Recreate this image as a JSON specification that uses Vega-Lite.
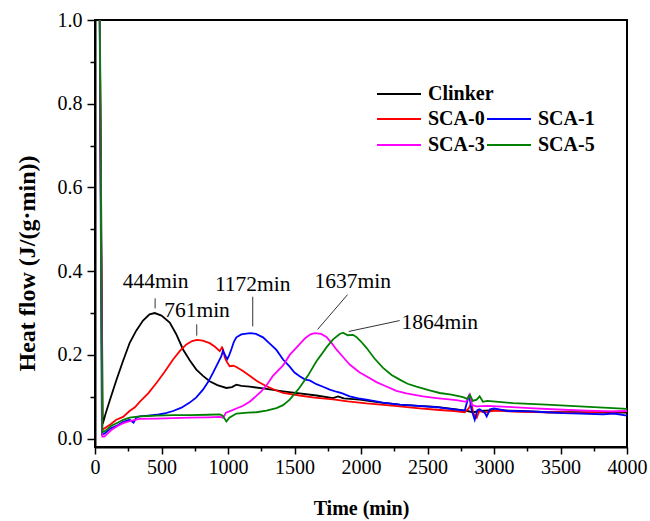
{
  "$schema": "https://vega.github.io/schema/vega-lite/v6.json",
  "autosize": {"type": "none"},
  "padding": {"left": 95, "top": 20, "right": 23, "bottom": 74},
  "width": 532,
  "height": 427,
  "background": "white",
  "config": {
    "view": {"stroke": "black", "strokeWidth": 2},
    "axis": {
      "grid": false,
      "domainColor": "black",
      "domainWidth": 2,
      "tickColor": "black",
      "tickWidth": 1.5,
      "labelFont": "Liberation Serif",
      "labelFontSize": 20,
      "labelColor": "black",
      "titleFont": "Liberation Serif",
      "titleFontSize": 20,
      "titleFontWeight": "bold",
      "titleColor": "black",
      "labelOverlap": false,
      "labelFlush": false
    },
    "legend": {
      "labelFont": "Liberation Serif",
      "labelFontSize": 20,
      "labelFontWeight": "bold",
      "labelColor": "black",
      "symbolType": "M-2.2,0H2.2",
      "symbolStrokeWidth": 2,
      "symbolSize": 400,
      "labelOffset": 18,
      "padding": 0,
      "rowPadding": 5,
      "columnPadding": -2
    }
  },
  "datasets": {
    "curves": [
      {"t":30,"q":1.3,"s":"Clinker"},{"t":58,"q":0.035,"s":"Clinker"},{"t":80,"q":0.06,"s":"Clinker"},{"t":120,"q":0.1,"s":"Clinker"},{"t":161,"q":0.14,"s":"Clinker"},{"t":210,"q":0.185,"s":"Clinker"},{"t":261,"q":0.229,"s":"Clinker"},{"t":310,"q":0.258,"s":"Clinker"},{"t":361,"q":0.282,"s":"Clinker"},{"t":410,"q":0.297,"s":"Clinker"},{"t":449,"q":0.3,"s":"Clinker"},{"t":500,"q":0.294,"s":"Clinker"},{"t":562,"q":0.277,"s":"Clinker"},{"t":610,"q":0.25,"s":"Clinker"},{"t":662,"q":0.213,"s":"Clinker"},{"t":712,"q":0.187,"s":"Clinker"},{"t":762,"q":0.165,"s":"Clinker"},{"t":812,"q":0.15,"s":"Clinker"},{"t":862,"q":0.137,"s":"Clinker"},{"t":920,"q":0.128,"s":"Clinker"},{"t":988,"q":0.121,"s":"Clinker"},{"t":1030,"q":0.123,"s":"Clinker"},{"t":1063,"q":0.129,"s":"Clinker"},{"t":1100,"q":0.126,"s":"Clinker"},{"t":1163,"q":0.124,"s":"Clinker"},{"t":1263,"q":0.12,"s":"Clinker"},{"t":1414,"q":0.113,"s":"Clinker"},{"t":1539,"q":0.108,"s":"Clinker"},{"t":1665,"q":0.103,"s":"Clinker"},{"t":1790,"q":0.097,"s":"Clinker"},{"t":1827,"q":0.101,"s":"Clinker"},{"t":1870,"q":0.096,"s":"Clinker"},{"t":1990,"q":0.093,"s":"Clinker"},{"t":2150,"q":0.086,"s":"Clinker"},{"t":2291,"q":0.081,"s":"Clinker"},{"t":2430,"q":0.078,"s":"Clinker"},{"t":2567,"q":0.076,"s":"Clinker"},{"t":2717,"q":0.07,"s":"Clinker"},{"t":2800,"q":0.066,"s":"Clinker"},{"t":2842,"q":0.063,"s":"Clinker"},{"t":2900,"q":0.066,"s":"Clinker"},{"t":3000,"q":0.068,"s":"Clinker"},{"t":3200,"q":0.066,"s":"Clinker"},{"t":3400,"q":0.063,"s":"Clinker"},{"t":3600,"q":0.063,"s":"Clinker"},{"t":3800,"q":0.062,"s":"Clinker"},{"t":4000,"q":0.062,"s":"Clinker"},

      {"t":30,"q":1.3,"s":"SCA-0"},{"t":55,"q":0.02,"s":"SCA-0"},{"t":73,"q":0.025,"s":"SCA-0"},{"t":120,"q":0.035,"s":"SCA-0"},{"t":160,"q":0.045,"s":"SCA-0"},{"t":211,"q":0.052,"s":"SCA-0"},{"t":260,"q":0.066,"s":"SCA-0"},{"t":300,"q":0.075,"s":"SCA-0"},{"t":336,"q":0.088,"s":"SCA-0"},{"t":400,"q":0.108,"s":"SCA-0"},{"t":462,"q":0.133,"s":"SCA-0"},{"t":520,"q":0.158,"s":"SCA-0"},{"t":587,"q":0.189,"s":"SCA-0"},{"t":640,"q":0.21,"s":"SCA-0"},{"t":687,"q":0.225,"s":"SCA-0"},{"t":730,"q":0.233,"s":"SCA-0"},{"t":767,"q":0.236,"s":"SCA-0"},{"t":810,"q":0.234,"s":"SCA-0"},{"t":862,"q":0.228,"s":"SCA-0"},{"t":900,"q":0.22,"s":"SCA-0"},{"t":938,"q":0.209,"s":"SCA-0"},{"t":955,"q":0.218,"s":"SCA-0"},{"t":962,"q":0.214,"s":"SCA-0"},{"t":975,"q":0.195,"s":"SCA-0"},{"t":988,"q":0.185,"s":"SCA-0"},{"t":1013,"q":0.173,"s":"SCA-0"},{"t":1040,"q":0.174,"s":"SCA-0"},{"t":1063,"q":0.171,"s":"SCA-0"},{"t":1110,"q":0.162,"s":"SCA-0"},{"t":1163,"q":0.15,"s":"SCA-0"},{"t":1220,"q":0.137,"s":"SCA-0"},{"t":1289,"q":0.125,"s":"SCA-0"},{"t":1364,"q":0.115,"s":"SCA-0"},{"t":1414,"q":0.109,"s":"SCA-0"},{"t":1539,"q":0.103,"s":"SCA-0"},{"t":1650,"q":0.098,"s":"SCA-0"},{"t":1790,"q":0.094,"s":"SCA-0"},{"t":1900,"q":0.089,"s":"SCA-0"},{"t":2041,"q":0.084,"s":"SCA-0"},{"t":2150,"q":0.081,"s":"SCA-0"},{"t":2291,"q":0.077,"s":"SCA-0"},{"t":2420,"q":0.073,"s":"SCA-0"},{"t":2567,"q":0.069,"s":"SCA-0"},{"t":2700,"q":0.066,"s":"SCA-0"},{"t":2780,"q":0.063,"s":"SCA-0"},{"t":2810,"q":0.072,"s":"SCA-0"},{"t":2830,"q":0.085,"s":"SCA-0"},{"t":2845,"q":0.06,"s":"SCA-0"},{"t":2870,"q":0.05,"s":"SCA-0"},{"t":2890,"q":0.066,"s":"SCA-0"},{"t":2930,"q":0.062,"s":"SCA-0"},{"t":3000,"q":0.067,"s":"SCA-0"},{"t":3200,"q":0.064,"s":"SCA-0"},{"t":3400,"q":0.063,"s":"SCA-0"},{"t":3600,"q":0.062,"s":"SCA-0"},{"t":3800,"q":0.064,"s":"SCA-0"},{"t":4000,"q":0.065,"s":"SCA-0"},

      {"t":30,"q":1.3,"s":"SCA-1"},{"t":52,"q":0.01,"s":"SCA-1"},{"t":70,"q":0.012,"s":"SCA-1"},{"t":120,"q":0.025,"s":"SCA-1"},{"t":170,"q":0.032,"s":"SCA-1"},{"t":212,"q":0.04,"s":"SCA-1"},{"t":260,"q":0.045,"s":"SCA-1"},{"t":290,"q":0.038,"s":"SCA-1"},{"t":310,"q":0.05,"s":"SCA-1"},{"t":336,"q":0.053,"s":"SCA-1"},{"t":400,"q":0.055,"s":"SCA-1"},{"t":462,"q":0.057,"s":"SCA-1"},{"t":520,"q":0.06,"s":"SCA-1"},{"t":587,"q":0.066,"s":"SCA-1"},{"t":650,"q":0.074,"s":"SCA-1"},{"t":712,"q":0.086,"s":"SCA-1"},{"t":760,"q":0.098,"s":"SCA-1"},{"t":812,"q":0.117,"s":"SCA-1"},{"t":850,"q":0.135,"s":"SCA-1"},{"t":887,"q":0.157,"s":"SCA-1"},{"t":920,"q":0.178,"s":"SCA-1"},{"t":950,"q":0.197,"s":"SCA-1"},{"t":962,"q":0.21,"s":"SCA-1"},{"t":970,"q":0.205,"s":"SCA-1"},{"t":985,"q":0.195,"s":"SCA-1"},{"t":995,"q":0.19,"s":"SCA-1"},{"t":1010,"q":0.2,"s":"SCA-1"},{"t":1026,"q":0.214,"s":"SCA-1"},{"t":1045,"q":0.232,"s":"SCA-1"},{"t":1063,"q":0.242,"s":"SCA-1"},{"t":1100,"q":0.249,"s":"SCA-1"},{"t":1138,"q":0.251,"s":"SCA-1"},{"t":1172,"q":0.252,"s":"SCA-1"},{"t":1210,"q":0.25,"s":"SCA-1"},{"t":1263,"q":0.242,"s":"SCA-1"},{"t":1310,"q":0.228,"s":"SCA-1"},{"t":1364,"q":0.212,"s":"SCA-1"},{"t":1414,"q":0.189,"s":"SCA-1"},{"t":1464,"q":0.172,"s":"SCA-1"},{"t":1500,"q":0.158,"s":"SCA-1"},{"t":1539,"q":0.149,"s":"SCA-1"},{"t":1580,"q":0.141,"s":"SCA-1"},{"t":1614,"q":0.139,"s":"SCA-1"},{"t":1665,"q":0.13,"s":"SCA-1"},{"t":1714,"q":0.124,"s":"SCA-1"},{"t":1765,"q":0.117,"s":"SCA-1"},{"t":1815,"q":0.112,"s":"SCA-1"},{"t":1860,"q":0.108,"s":"SCA-1"},{"t":1915,"q":0.101,"s":"SCA-1"},{"t":1980,"q":0.096,"s":"SCA-1"},{"t":2041,"q":0.093,"s":"SCA-1"},{"t":2166,"q":0.086,"s":"SCA-1"},{"t":2291,"q":0.081,"s":"SCA-1"},{"t":2430,"q":0.078,"s":"SCA-1"},{"t":2567,"q":0.075,"s":"SCA-1"},{"t":2700,"q":0.07,"s":"SCA-1"},{"t":2780,"q":0.067,"s":"SCA-1"},{"t":2813,"q":0.105,"s":"SCA-1"},{"t":2830,"q":0.07,"s":"SCA-1"},{"t":2855,"q":0.045,"s":"SCA-1"},{"t":2875,"q":0.068,"s":"SCA-1"},{"t":2892,"q":0.07,"s":"SCA-1"},{"t":2930,"q":0.062,"s":"SCA-1"},{"t":2945,"q":0.053,"s":"SCA-1"},{"t":2970,"q":0.07,"s":"SCA-1"},{"t":3000,"q":0.072,"s":"SCA-1"},{"t":3100,"q":0.066,"s":"SCA-1"},{"t":3268,"q":0.065,"s":"SCA-1"},{"t":3400,"q":0.063,"s":"SCA-1"},{"t":3519,"q":0.061,"s":"SCA-1"},{"t":3650,"q":0.06,"s":"SCA-1"},{"t":3820,"q":0.058,"s":"SCA-1"},{"t":3900,"q":0.06,"s":"SCA-1"},{"t":4000,"q":0.055,"s":"SCA-1"},

      {"t":30,"q":1.3,"s":"SCA-3"},{"t":55,"q":0.005,"s":"SCA-3"},{"t":70,"q":0.005,"s":"SCA-3"},{"t":120,"q":0.02,"s":"SCA-3"},{"t":170,"q":0.03,"s":"SCA-3"},{"t":212,"q":0.037,"s":"SCA-3"},{"t":260,"q":0.042,"s":"SCA-3"},{"t":336,"q":0.047,"s":"SCA-3"},{"t":462,"q":0.048,"s":"SCA-3"},{"t":587,"q":0.049,"s":"SCA-3"},{"t":712,"q":0.05,"s":"SCA-3"},{"t":850,"q":0.051,"s":"SCA-3"},{"t":940,"q":0.052,"s":"SCA-3"},{"t":963,"q":0.05,"s":"SCA-3"},{"t":985,"q":0.062,"s":"SCA-3"},{"t":1010,"q":0.065,"s":"SCA-3"},{"t":1063,"q":0.072,"s":"SCA-3"},{"t":1110,"q":0.078,"s":"SCA-3"},{"t":1163,"q":0.088,"s":"SCA-3"},{"t":1213,"q":0.102,"s":"SCA-3"},{"t":1250,"q":0.113,"s":"SCA-3"},{"t":1289,"q":0.127,"s":"SCA-3"},{"t":1338,"q":0.15,"s":"SCA-3"},{"t":1414,"q":0.175,"s":"SCA-3"},{"t":1464,"q":0.2,"s":"SCA-3"},{"t":1539,"q":0.226,"s":"SCA-3"},{"t":1580,"q":0.24,"s":"SCA-3"},{"t":1620,"q":0.249,"s":"SCA-3"},{"t":1652,"q":0.252,"s":"SCA-3"},{"t":1700,"q":0.25,"s":"SCA-3"},{"t":1740,"q":0.243,"s":"SCA-3"},{"t":1780,"q":0.228,"s":"SCA-3"},{"t":1815,"q":0.213,"s":"SCA-3"},{"t":1865,"q":0.195,"s":"SCA-3"},{"t":1915,"q":0.177,"s":"SCA-3"},{"t":1990,"q":0.158,"s":"SCA-3"},{"t":2041,"q":0.149,"s":"SCA-3"},{"t":2116,"q":0.135,"s":"SCA-3"},{"t":2166,"q":0.128,"s":"SCA-3"},{"t":2266,"q":0.114,"s":"SCA-3"},{"t":2341,"q":0.108,"s":"SCA-3"},{"t":2466,"q":0.101,"s":"SCA-3"},{"t":2567,"q":0.097,"s":"SCA-3"},{"t":2717,"q":0.092,"s":"SCA-3"},{"t":2790,"q":0.088,"s":"SCA-3"},{"t":2817,"q":0.105,"s":"SCA-3"},{"t":2835,"q":0.08,"s":"SCA-3"},{"t":2867,"q":0.077,"s":"SCA-3"},{"t":2950,"q":0.078,"s":"SCA-3"},{"t":3100,"q":0.076,"s":"SCA-3"},{"t":3268,"q":0.073,"s":"SCA-3"},{"t":3519,"q":0.069,"s":"SCA-3"},{"t":3700,"q":0.067,"s":"SCA-3"},{"t":3895,"q":0.065,"s":"SCA-3"},{"t":4000,"q":0.066,"s":"SCA-3"},

      {"t":30,"q":1.3,"s":"SCA-5"},{"t":55,"q":0.015,"s":"SCA-5"},{"t":75,"q":0.018,"s":"SCA-5"},{"t":120,"q":0.03,"s":"SCA-5"},{"t":170,"q":0.038,"s":"SCA-5"},{"t":212,"q":0.045,"s":"SCA-5"},{"t":260,"q":0.05,"s":"SCA-5"},{"t":336,"q":0.053,"s":"SCA-5"},{"t":400,"q":0.054,"s":"SCA-5"},{"t":462,"q":0.055,"s":"SCA-5"},{"t":587,"q":0.056,"s":"SCA-5"},{"t":712,"q":0.056,"s":"SCA-5"},{"t":850,"q":0.057,"s":"SCA-5"},{"t":938,"q":0.058,"s":"SCA-5"},{"t":960,"q":0.055,"s":"SCA-5"},{"t":988,"q":0.041,"s":"SCA-5"},{"t":1010,"q":0.05,"s":"SCA-5"},{"t":1063,"q":0.06,"s":"SCA-5"},{"t":1150,"q":0.062,"s":"SCA-5"},{"t":1213,"q":0.063,"s":"SCA-5"},{"t":1289,"q":0.067,"s":"SCA-5"},{"t":1364,"q":0.073,"s":"SCA-5"},{"t":1414,"q":0.08,"s":"SCA-5"},{"t":1464,"q":0.093,"s":"SCA-5"},{"t":1539,"q":0.122,"s":"SCA-5"},{"t":1600,"q":0.15,"s":"SCA-5"},{"t":1665,"q":0.185,"s":"SCA-5"},{"t":1700,"q":0.2,"s":"SCA-5"},{"t":1740,"q":0.218,"s":"SCA-5"},{"t":1790,"q":0.237,"s":"SCA-5"},{"t":1840,"q":0.25,"s":"SCA-5"},{"t":1865,"q":0.253,"s":"SCA-5"},{"t":1900,"q":0.247,"s":"SCA-5"},{"t":1940,"q":0.248,"s":"SCA-5"},{"t":1965,"q":0.243,"s":"SCA-5"},{"t":2000,"q":0.232,"s":"SCA-5"},{"t":2041,"q":0.217,"s":"SCA-5"},{"t":2100,"q":0.192,"s":"SCA-5"},{"t":2166,"q":0.169,"s":"SCA-5"},{"t":2230,"q":0.152,"s":"SCA-5"},{"t":2291,"q":0.141,"s":"SCA-5"},{"t":2350,"q":0.131,"s":"SCA-5"},{"t":2417,"q":0.124,"s":"SCA-5"},{"t":2516,"q":0.115,"s":"SCA-5"},{"t":2592,"q":0.109,"s":"SCA-5"},{"t":2680,"q":0.105,"s":"SCA-5"},{"t":2767,"q":0.099,"s":"SCA-5"},{"t":2800,"q":0.095,"s":"SCA-5"},{"t":2820,"q":0.104,"s":"SCA-5"},{"t":2840,"q":0.09,"s":"SCA-5"},{"t":2870,"q":0.093,"s":"SCA-5"},{"t":2892,"q":0.101,"s":"SCA-5"},{"t":2917,"q":0.088,"s":"SCA-5"},{"t":2950,"q":0.09,"s":"SCA-5"},{"t":2993,"q":0.089,"s":"SCA-5"},{"t":3143,"q":0.085,"s":"SCA-5"},{"t":3394,"q":0.081,"s":"SCA-5"},{"t":3644,"q":0.077,"s":"SCA-5"},{"t":3895,"q":0.073,"s":"SCA-5"},{"t":4000,"q":0.071,"s":"SCA-5"}
    ],
    "leaders": [
      {"x":452,"y":0.311,"x2":452,"y2":0.335},
      {"x":765,"y":0.246,"x2":765,"y2":0.273},
      {"x":1186,"y":0.268,"x2":1186,"y2":0.339},
      {"x":1674,"y":0.261,"x2":1899,"y2":0.344},
      {"x":1908,"y":0.256,"x2":2291,"y2":0.282}
    ],
    "notes": [
      {"label":"444min","x":456,"y":0.375},
      {"label":"761min","x":767,"y":0.304},
      {"label":"1172min","x":1186,"y":0.368},
      {"label":"1637min","x":1938,"y":0.375},
      {"label":"1864min","x":2592,"y":0.277}
    ]
  },
  "encoding": {
    "x": {
      "type": "quantitative",
      "scale": {"domain": [0, 4000], "nice": false, "zero": false},
      "axis": {
        "title": "Time (min)",
        "values": [0,250,500,750,1000,1250,1500,1750,2000,2250,2500,2750,3000,3250,3500,3750,4000],
        "format": "d",
        "labelExpr": "datum.value % 500 == 0 ? datum.label : ''",
        "tickSize": {"condition": {"test": "datum.value % 500 != 0", "value": 4}, "value": 7},
        "labelPadding": 3,
        "titlePadding": 21
      }
    },
    "y": {
      "type": "quantitative",
      "scale": {"domain": [-0.02, 1.0], "nice": false, "zero": false},
      "axis": {
        "title": "Heat flow (J/(g·min))",
        "values": [0,0.1,0.2,0.3,0.4,0.5,0.6,0.7,0.8,0.9,1.0],
        "labelExpr": "round(datum.value*10) % 2 == 0 ? format(datum.value, '.1f') : ''",
        "tickSize": {"condition": {"test": "round(datum.value*10) % 2 == 1", "value": 5}, "value": 8},
        "labelPadding": 5,
        "titlePadding": 18,
        "titleFontSize": 24,
        "titleY": 243
      }
    }
  },
  "layer": [
    {
      "data": {"name": "curves"},
      "transform": [{"filter": "datum.s == 'Clinker'"}],
      "mark": {"type": "line", "clip": true, "strokeWidth": 1.8},
      "encoding": {
        "x": {"field": "t", "type": "quantitative"},
        "y": {"field": "q", "type": "quantitative"},
        "color": {
          "field": "s", "type": "nominal",
          "scale": {"domain": ["Clinker"], "range": ["#000000"]},
          "legend": {"title": null, "orient": "none", "legendX": 293, "legendY": 63}
        }
      }
    },
    {
      "data": {"name": "curves"},
      "transform": [{"filter": "datum.s != 'Clinker'"}],
      "mark": {"type": "line", "clip": true, "strokeWidth": 1.8},
      "encoding": {
        "x": {"field": "t", "type": "quantitative"},
        "y": {"field": "q", "type": "quantitative"},
        "stroke": {
          "field": "s", "type": "nominal",
          "scale": {"domain": ["SCA-0", "SCA-1", "SCA-3", "SCA-5"], "range": ["#ff0000", "#0000ff", "#ff00ff", "#008000"]},
          "legend": {"title": null, "orient": "none", "legendX": 293, "legendY": 88, "columns": 2, "direction": "horizontal"}
        }
      }
    },
    {
      "data": {"name": "leaders"},
      "mark": {"type": "rule", "color": "#333333", "strokeWidth": 1},
      "encoding": {
        "x": {"field": "x", "type": "quantitative"},
        "y": {"field": "y", "type": "quantitative"},
        "x2": {"field": "x2"},
        "y2": {"field": "y2"}
      }
    },
    {
      "data": {"name": "notes"},
      "mark": {"type": "text", "font": "Liberation Serif", "fontSize": 21.5, "color": "black", "align": "center", "baseline": "middle"},
      "encoding": {
        "x": {"field": "x", "type": "quantitative"},
        "y": {"field": "y", "type": "quantitative"},
        "text": {"field": "label"}
      }
    }
  ]
}
